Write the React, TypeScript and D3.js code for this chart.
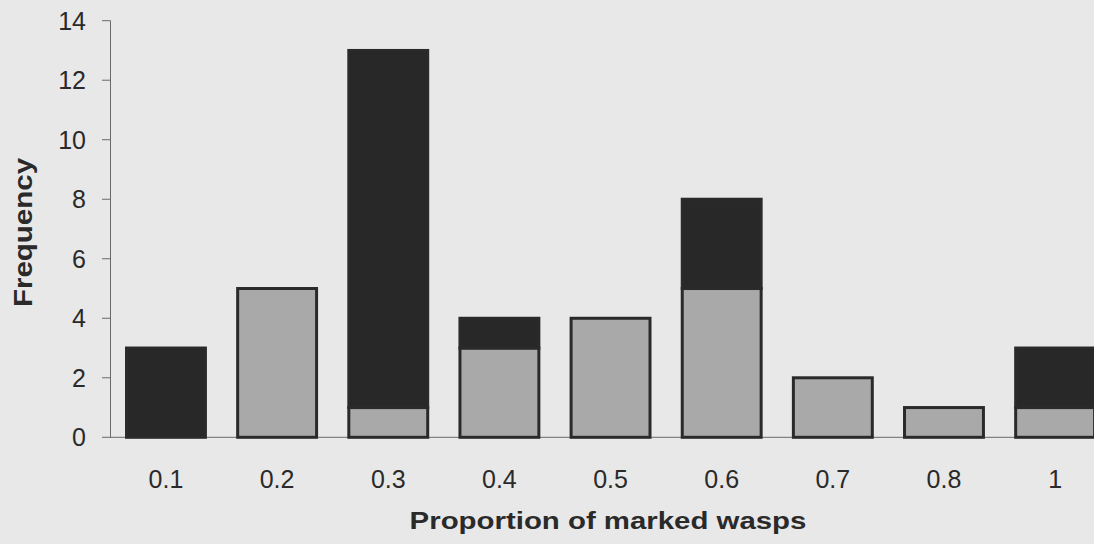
import React from "react";
import * as d3 from "d3";

const categories = ["0.1", "0.2", "0.3", "0.4", "0.5", "0.6", "0.7", "0.8", "1"];
const greyValues = [0, 5, 1, 3, 4, 5, 2, 1, 1];
const blackValues = [3, 0, 12, 1, 0, 3, 0, 0, 2];
const yTicks = [0, 2, 4, 6, 8, 10, 12, 14];

const W = 1094;
const H = 544;
const FONT = "'Liberation Sans', Arial, Helvetica, sans-serif";

export default function App() {
  const x = d3
    .scaleBand<string>()
    .domain(categories)
    .range([110.4, 1110.7])
    .paddingInner(0.29)
    .paddingOuter(0.145);
  const y = d3.scaleLinear().domain([0, 14]).range([437.3, 20.7]);

  const stacked = categories.map((c, i) => ({
    c,
    segs: [
      { key: "grey", y0: 0, y1: greyValues[i], fill: "#a9a9a9" },
      { key: "black", y0: greyValues[i], y1: greyValues[i] + blackValues[i], fill: "#282828" },
    ].filter((s) => s.y1 > s.y0),
  }));

  return (
    <div style={{ position: "absolute", left: 0, top: 0, width: W, height: H, overflow: "hidden" }}>
      <svg width={W} height={H} style={{ display: "block", background: "#e8e8e8" }}>
        <rect x={0} y={0} width={W} height={H} fill="#e8e8e8" />
        {/* x axis baseline */}
        <line x1={110} x2={W} y1={y(0)} y2={y(0)} stroke="#6a6a6a" strokeWidth={1} />
        {/* bars */}
        {stacked.map((d) => (
          <g key={d.c}>
            {d.segs.map((s) => (
              <rect
                key={s.key}
                x={x(d.c)!}
                width={x.bandwidth()}
                y={y(s.y1)}
                height={y(s.y0) - y(s.y1)}
                fill={s.fill}
                stroke="#2a2a2a"
                strokeWidth={3}
              />
            ))}
          </g>
        ))}
        {/* y axis */}
        <line x1={110.5} x2={110.5} y1={y(14)} y2={y(0)} stroke="#6a6a6a" strokeWidth={1} />
        {yTicks.map((t) => (
          <g key={t}>
            <line x1={102} x2={110.5} y1={y(t)} y2={y(t)} stroke="#6a6a6a" strokeWidth={1} />
            <text
              x={86}
              y={y(t)}
              dy="0.36em"
              textAnchor="end"
              fontFamily={FONT}
              fontSize={25}
              fill="#2a2a2a"
            >
              {t}
            </text>
          </g>
        ))}
        {/* x tick labels */}
        {categories.map((c) => (
          <text
            key={c}
            x={x(c)! + x.bandwidth() / 2}
            y={488}
            textAnchor="middle"
            fontFamily={FONT}
            fontSize={25}
            fill="#2a2a2a"
          >
            {c}
          </text>
        ))}
        {/* axis titles */}
        <text
          transform="translate(608,529) scale(1.2,1)"
          textAnchor="middle"
          fontFamily={FONT}
          fontSize={24.5}
          fontWeight="bold"
          fill="#2a2a2a"
        >
          Proportion of marked wasps
        </text>
        <text
          transform="translate(32,232.5) rotate(-90) scale(1.18,1)"
          textAnchor="middle"
          fontFamily={FONT}
          fontSize={25}
          fontWeight="bold"
          fill="#2a2a2a"
        >
          Frequency
        </text>
      </svg>
    </div>
  );
}
